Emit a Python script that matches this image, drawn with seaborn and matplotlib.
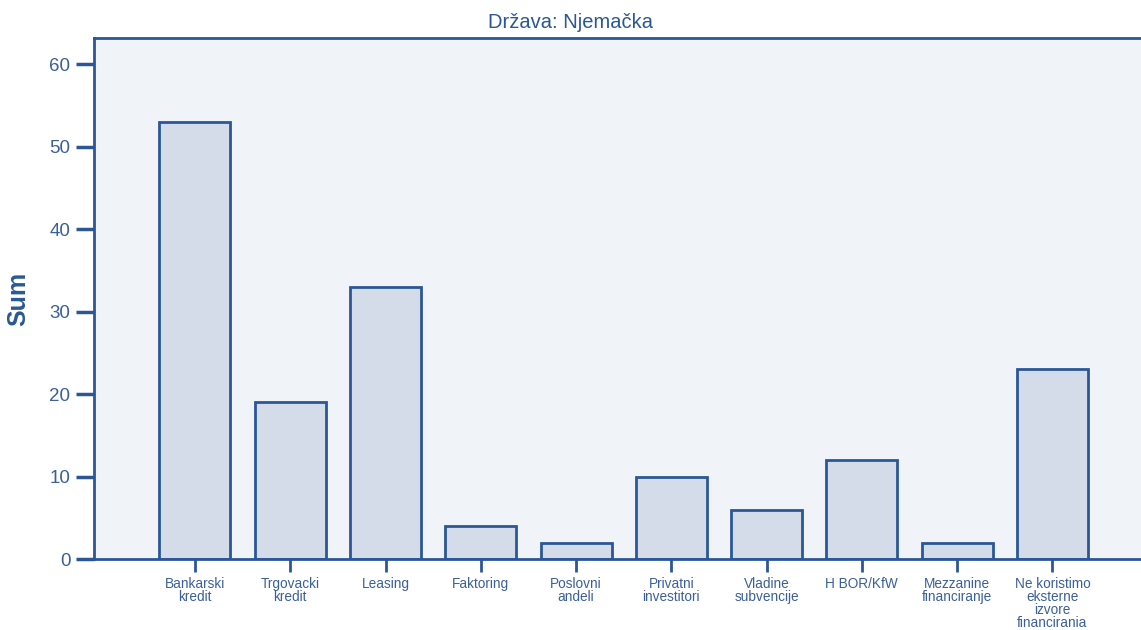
import matplotlib
matplotlib.use("Agg")
from matplotlib import pyplot as plt
import seaborn as sns
import pandas as pd

categories = ["Bankarski\nkredit", "Trgovacki\nkredit", "Leasing", "Faktoring",
              "Poslovni\nandeli", "Privatni\ninvestitori", "Vladine\nsubvencije",
              "H BOR/KfW", "Mezzanine\nfinanciranje",
              "Ne koristimo\neksterne\nizvore\nfinancirania"]
values = [53, 19, 33, 4, 2, 10, 6, 12, 2, 23]

BLUE = "#2b5796"
TEXT = "#3b5f99"

sns.set_style("white")
plt.rcParams['font.family'] = ['Liberation Sans', 'DejaVu Sans']

df = pd.DataFrame({"kategorija": categories, "Sum": values})

fig = plt.figure(figsize=(11.41, 6.3), dpi=100)
ax = fig.add_axes([94 / 1141, (630 - 559) / 630, (1141 - 94) / 1141, (559 - 38) / 630])
ax.set_facecolor("#f0f4f8")

sns.barplot(data=df, x="kategorija", y="Sum", ax=ax, color="#d3dce8",
            edgecolor=BLUE, linewidth=2, width=0.745, saturation=1)

ax.set_xlim(-1.06, 9.93)
ax.set_ylim(0, 63.2)
ax.set_yticks([0, 10, 20, 30, 40, 50, 60])

for s in ["left", "bottom", "top"]:
    ax.spines[s].set_color(BLUE)
    ax.spines[s].set_linewidth(2)
ax.spines["right"].set_visible(False)

ax.tick_params(axis="y", colors=BLUE, labelcolor=TEXT, labelsize=13.5,
               length=13, width=2.5, direction="out", left=True, pad=4)
ax.tick_params(axis="x", colors=BLUE, labelcolor=TEXT, labelsize=9.8,
               length=9, width=2, direction="out", bottom=True, pad=4)
for lbl in ax.get_xticklabels():
    lbl.set_linespacing(0.9)

ax.set_xlabel("")
ax.set_ylabel("Sum", fontsize=18, fontweight="bold", color=BLUE, labelpad=14)

fig.text(570 / 1141, 1 - 22 / 630, "Država: Njemačka", ha="center", va="center",
         fontsize=14.5, color=BLUE)

fig.savefig("out.png", dpi=100)
